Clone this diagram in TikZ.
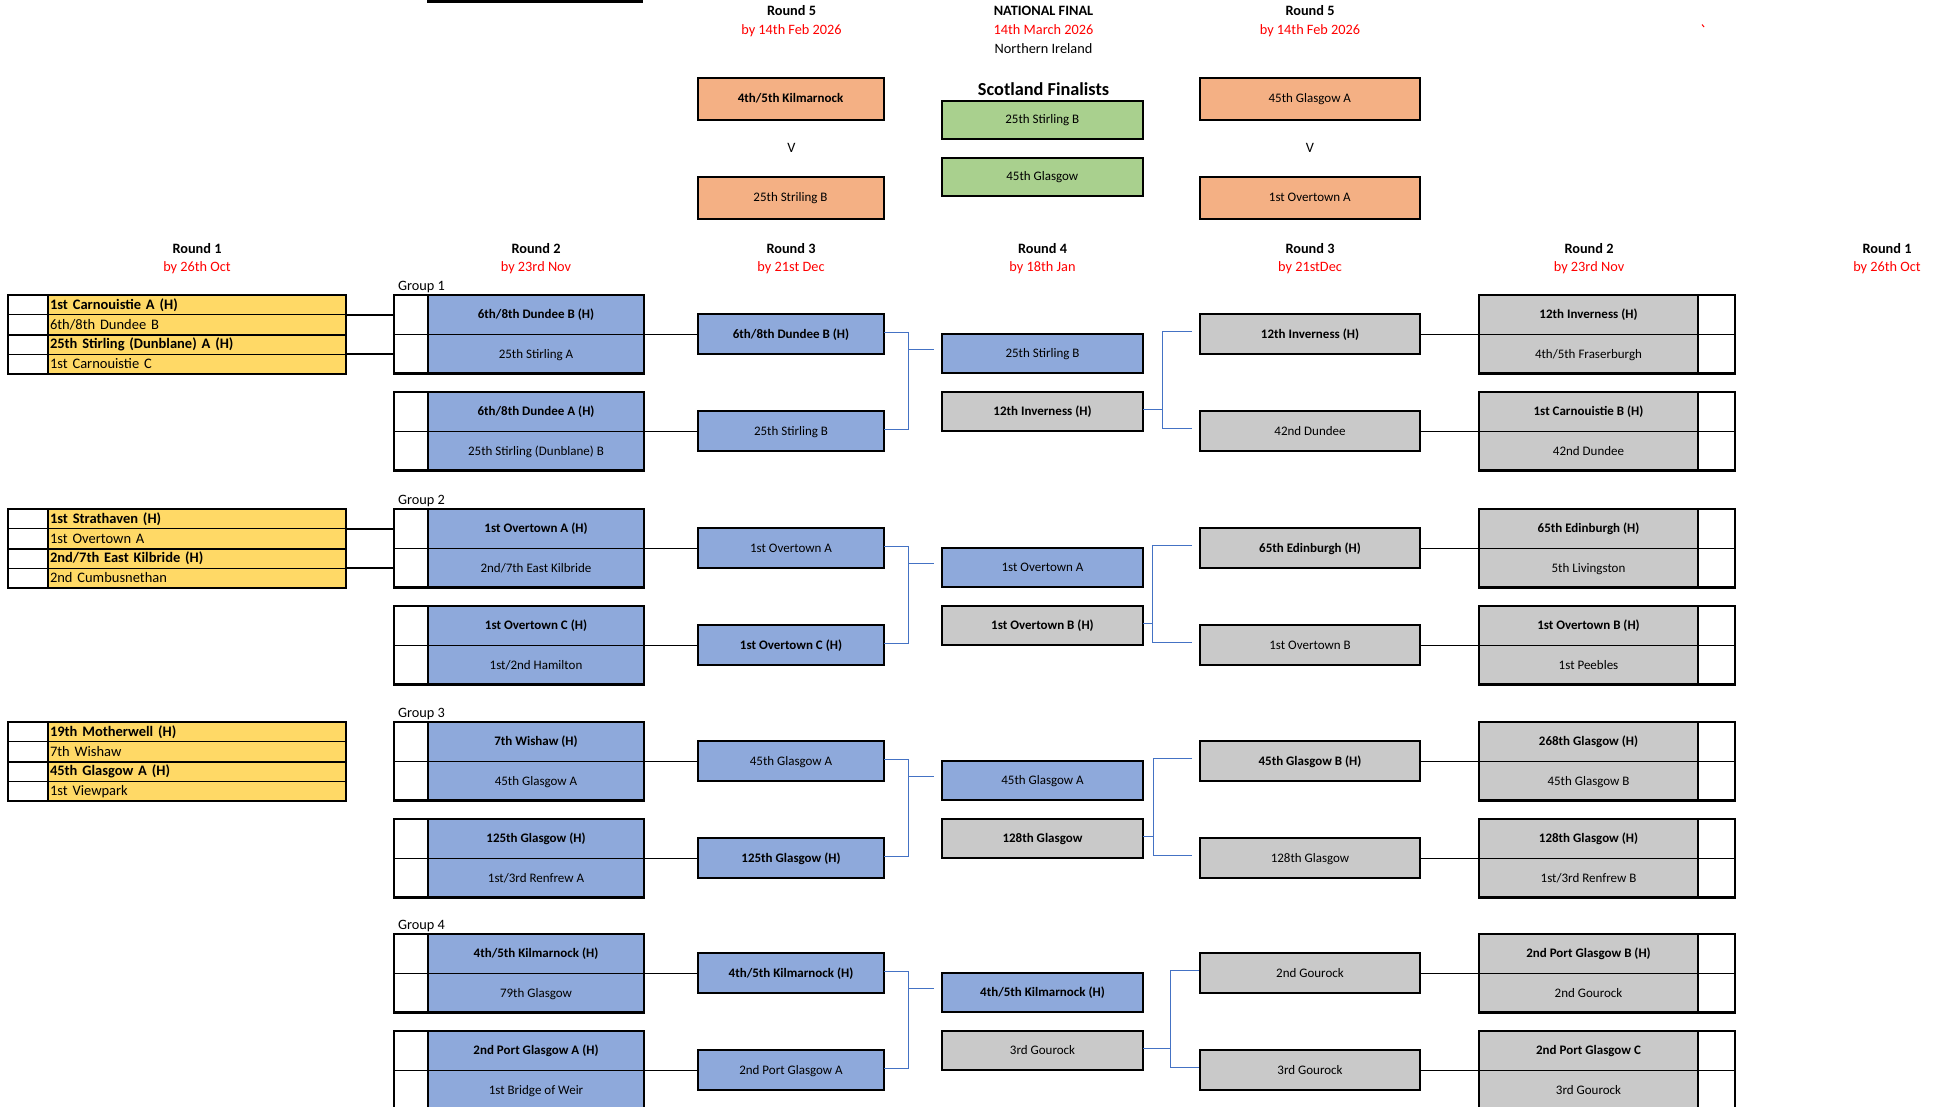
\documentclass[tikz,border=0pt]{standalone}
\usepackage{fontspec}
\setmainfont{Carlito}
\usetikzlibrary{calc}
\definecolor{yel}{HTML}{FFD966}
\definecolor{blu}{HTML}{8EA9DB}
\definecolor{gry}{HTML}{C9C9C9}
\definecolor{org}{HTML}{F4B084}
\definecolor{grn}{HTML}{A9D08E}
\definecolor{redt}{HTML}{FF0000}
\definecolor{brk}{HTML}{4472C4}
\newcommand\boxfont{\fontsize{13}{15}\selectfont}
\newcommand\rowfont{\fontsize{14.5}{16}\selectfont}
\newcommand\headfont{\fontsize{14.3}{16}\selectfont}
\tikzset{
  tcell/.style={draw=black, line width=1.6pt, inner sep=0pt, outer sep=0pt, anchor=north west, font=\boxfont, text height=10pt, text depth=2pt},
  rcell/.style={draw=black, line width=1.2pt, inner sep=0pt, outer sep=0pt, anchor=north west, minimum height=19.75pt, text height=11pt, text depth=2pt},
  ycell/.style={rcell, fill=yel, text width=294pt, align=left, inner xsep=2pt, font=\rowfont},
  outer/.style={draw=black, line width=2.6pt},
  midline/.style={draw=black, line width=2pt},
  conn/.style={draw=black, line width=1.8pt},
  bline/.style={draw=brk, line width=1pt},
  sbox/.style={draw=black, line width=2pt, inner sep=0pt, outer sep=0pt, anchor=north west, font=\boxfont, text height=10pt, text depth=2pt},
  rthree/.style={sbox, minimum width=186pt, minimum height=40pt},
  rfour/.style={sbox, minimum width=201pt, minimum height=39pt},
  rthreer/.style={sbox, minimum width=220pt, minimum height=40pt},
  obox/.style={sbox, fill=org, minimum height=42.3pt},
  gbox/.style={sbox, fill=grn, minimum width=201pt, minimum height=38.3pt},
  htxt/.style={inner sep=0pt, anchor=base, font=\headfont},
  hred/.style={htxt, text=redt},
  glabel/.style={inner sep=0pt, anchor=base west, font=\headfont},
}
% Round 1 box: name, y0, four texts
\newcommand\mkrone[6]{%
  \node[rcell, fill=white, minimum width=40pt] (#1w1) at (8,#2) {};
  \node[rcell, fill=white, minimum width=40pt] (#1w2) at (8,#2+19.75) {};
  \node[rcell, fill=white, minimum width=40pt] (#1w3) at (8,#2+39.5) {};
  \node[rcell, fill=white, minimum width=40pt] (#1w4) at (8,#2+59.25) {};
  \node[ycell] (#1y1) at (48,#2) {\bfseries #3};
  \node[ycell] (#1y2) at (48,#2+19.75) {#4};
  \node[ycell] (#1y3) at (48,#2+39.5) {\bfseries #5};
  \node[ycell] (#1y4) at (48,#2+59.25) {#6};
  \draw[outer] (#1w1.north west) rectangle (#1y4.south east);
  \draw[midline] (#1w2.south west) -- (#1y2.south east);
}
% Round 2 left box: name, ytop, top text, bottom text
\newcommand\mkrtwol[4]{%
  \node[tcell, fill=white, minimum width=34pt, minimum height=39.5pt] (#1wt) at (394,#2) {};
  \node[tcell, fill=white, minimum width=34pt, minimum height=39pt] (#1wb) at (394,#2+39.5) {};
  \node[tcell, fill=blu, minimum width=216pt, minimum height=39.5pt, font=\boxfont\bfseries] (#1t) at (428,#2) {#3};
  \node[tcell, fill=blu, minimum width=216pt, minimum height=39pt] (#1b) at (428,#2+39.5) {#4};
  \draw[outer] (#1wt.north west) rectangle (#1b.south east);
}
% Round 2 right box
\newcommand\mkrtwor[4]{%
  \node[tcell, fill=gry, minimum width=219pt, minimum height=39.5pt, font=\boxfont\bfseries] (#1t) at (1479,#2) {#3};
  \node[tcell, fill=gry, minimum width=219pt, minimum height=39pt] (#1b) at (1479,#2+39.5) {#4};
  \node[tcell, fill=white, minimum width=37pt, minimum height=39.5pt] (#1wt) at (1698,#2) {};
  \node[tcell, fill=white, minimum width=37pt, minimum height=39pt] (#1wb) at (1698,#2+39.5) {};
  \draw[outer] (#1t.north west) rectangle (#1wb.south east);
}
% connectors of a group: index, right bracket x, right gap
\newcommand\mklinks[3]{%
  \draw[conn] (A#1t.south east) -- (A#1t.south east -| L#1a.west);
  \draw[conn] (B#1t.south east) -- (B#1t.south east -| L#1b.west);
  \draw[conn] (C#1t.south west -| R#1a.east) -- (C#1t.south west);
  \draw[conn] (D#1t.south west -| R#1b.east) -- (D#1t.south west);
  \coordinate (lb#1) at (908,0);
  \coordinate (rb#1) at (#2,0);
  \draw[bline] ([yshift=2pt]L#1a.east) -- ([yshift=2pt]L#1a.east -| lb#1) -- ([yshift=2pt]L#1b.east -| lb#1) -- ([yshift=2pt]L#1b.east);
  \draw[bline] ([yshift=4.5pt]F#1a.west -| lb#1) -- ([xshift=-8pt,yshift=4.5pt]F#1a.west);
  \draw[bline] ([yshift=2.5pt]F#1b.east) -- ([yshift=2.5pt]F#1b.east -| rb#1);
  \draw[bline] ([xshift=-#3pt,yshift=3pt]R#1a.west) -- ([yshift=3pt]R#1a.west -| rb#1) -- ([yshift=3pt]R#1b.west -| rb#1) -- ([xshift=-#3pt,yshift=3pt]R#1b.west);
}
\begin{document}
\begin{tikzpicture}[x=1pt,y=-1pt]
\useasboundingbox (0,0) rectangle (1942,1107);
% top remnants
\draw[line width=3pt] (427,1.5) -- (643,1.5);
\draw[redt, line width=1pt] (1702,24.5) -- (1704,27);
% ---------- headers ----------
\node[htxt, font=\headfont\bfseries] (h5l) at (791.5,16) {Round 5};
\node[hred] (d5l) at (791.5,34.7) {by 14th Feb 2026};
\node[htxt, font=\headfont\bfseries] (hnf) at (1043.5,16) {NATIONAL FINAL};
\node[hred] (dnf) at (1043.5,34.7) {14th March 2026};
\node[htxt] (vnf) at (1043.5,54) {Northern Ireland};
\node[htxt, font=\headfont\bfseries] (h5r) at (1310,16) {Round 5};
\node[hred] (d5r) at (1310,34.7) {by 14th Feb 2026};
% round 5 and final boxes
\node[obox, minimum width=186pt, font=\boxfont\bfseries] (o1) at (697.5,77.7) {4th/5th Kilmarnock};
\node[htxt] (v1) at (791.5,152.7) {V};
\node[obox, minimum width=186pt] (o2) at (697.5,176.7) {25th Striling B};
\node[obox, minimum width=220.4pt] (o3) at (1199.6,77.7) {45th Glasgow A};
\node[htxt] (v2) at (1310,152.7) {V};
\node[obox, minimum width=220.4pt] (o4) at (1199.6,176.7) {1st Overtown A};
\node[htxt, font=\fontsize{18.3}{20}\selectfont\bfseries] (sf) at (1043.5,95.7) {Scotland Finalists};
\node[gbox] (g1) at (941.8,100.7) {25th Stirling B};
\node[gbox] (g2) at (941.8,157.7) {45th Glasgow};
% round headers
\node[htxt, font=\headfont\bfseries] (r1l) at (197,253.3) {Round 1};
\node[hred] (r1ld) at (197,271.7) {by 26th Oct};
\node[htxt, font=\headfont\bfseries] (r2l) at (536,253.3) {Round 2};
\node[hred] (r2ld) at (536,271.7) {by 23rd Nov};
\node[htxt, font=\headfont\bfseries] (r3l) at (791,253.3) {Round 3};
\node[hred] (r3ld) at (791,271.7) {by 21st Dec};
\node[htxt, font=\headfont\bfseries] (r4) at (1042.5,253.3) {Round 4};
\node[hred] (r4d) at (1042.5,271.7) {by 18th Jan};
\node[htxt, font=\headfont\bfseries] (r3r) at (1310,253.3) {Round 3};
\node[hred] (r3rd) at (1310,271.7) {by 21stDec};
\node[htxt, font=\headfont\bfseries] (r2r) at (1589,253.3) {Round 2};
\node[hred] (r2rd) at (1589,271.7) {by 23rd Nov};
\node[htxt, font=\headfont\bfseries] (r1r) at (1887,253.3) {Round 1};
\node[hred] (r1rd) at (1887,271.7) {by 26th Oct};
% ================= Group 1 (y0=295) =================
\node[glabel] (gl1) at (397.8,290) {Group 1};
\mkrone{Q1}{295}{1st Carnouistie A (H)}{6th/8th Dundee B}{25th Stirling (Dunblane) A (H)}{1st Carnouistie C}
\mkrtwol{A1}{295}{6th/8th Dundee B (H)}{25th Stirling A}
\mkrtwol{B1}{392}{6th/8th Dundee A (H)}{25th Stirling (Dunblane) B}
\node[rthree, fill=blu] (L1a) at (698,314) {\bfseries 6th/8th Dundee B (H)};
\node[rthree, fill=blu] (L1b) at (698,411) {25th Stirling B};
\node[rfour, fill=blu] (F1a) at (942,334) {25th Stirling B};
\node[rfour, fill=gry] (F1b) at (942,392) {\bfseries 12th Inverness (H)};
\node[rthreer, fill=gry] (R1a) at (1200,314) {\bfseries 12th Inverness (H)};
\node[rthreer, fill=gry] (R1b) at (1200,411) {42nd Dundee};
\mkrtwor{C1}{295}{12th Inverness (H)}{4th/5th Fraserburgh}
\mkrtwor{D1}{392}{1st Carnouistie B (H)}{42nd Dundee}
\draw[conn] (Q1y1.south east) -- (Q1y1.south east -| A1wt.west);
\draw[conn] (Q1y3.south east) -- (Q1y3.south east -| A1wt.west);
\mklinks{1}{1162}{8}
% ================= Group 2 (y0=509) =================
\node[glabel] (gl2) at (397.8,504) {Group 2};
\mkrone{Q2}{509}{1st Strathaven (H)}{1st Overtown A}{2nd/7th East Kilbride (H)}{2nd Cumbusnethan}
\mkrtwol{A2}{509}{1st Overtown A (H)}{2nd/7th East Kilbride}
\mkrtwol{B2}{606}{1st Overtown C (H)}{1st/2nd Hamilton}
\node[rthree, fill=blu] (L2a) at (698,528) {1st Overtown A};
\node[rthree, fill=blu] (L2b) at (698,625) {\bfseries 1st Overtown C (H)};
\node[rfour, fill=blu] (F2a) at (942,548) {1st Overtown A};
\node[rfour, fill=gry] (F2b) at (942,606) {\bfseries 1st Overtown B (H)};
\node[rthreer, fill=gry] (R2a) at (1200,528) {\bfseries 65th Edinburgh (H)};
\node[rthreer, fill=gry] (R2b) at (1200,625) {1st Overtown B};
\mkrtwor{C2}{509}{65th Edinburgh (H)}{5th Livingston}
\mkrtwor{D2}{606}{1st Overtown B (H)}{1st Peebles}
\draw[conn] (Q2y1.south east) -- (Q2y1.south east -| A2wt.west);
\draw[conn] (Q2y3.south east) -- (Q2y3.south east -| A2wt.west);
\mklinks{2}{1152}{8}
% ================= Group 3 (y0=722) =================
\node[glabel] (gl3) at (397.8,717) {Group 3};
\mkrone{Q3}{722}{19th Motherwell (H)}{7th Wishaw}{45th Glasgow A (H)}{1st Viewpark}
\mkrtwol{A3}{722}{7th Wishaw (H)}{45th Glasgow A}
\mkrtwol{B3}{819}{125th Glasgow (H)}{1st/3rd Renfrew A}
\node[rthree, fill=blu] (L3a) at (698,741) {45th Glasgow A};
\node[rthree, fill=blu] (L3b) at (698,838) {\bfseries 125th Glasgow (H)};
\node[rfour, fill=blu] (F3a) at (942,761) {45th Glasgow A};
\node[rfour, fill=gry] (F3b) at (942,819) {\bfseries 128th Glasgow};
\node[rthreer, fill=gry] (R3a) at (1200,741) {\bfseries 45th Glasgow B (H)};
\node[rthreer, fill=gry] (R3b) at (1200,838) {128th Glasgow};
\mkrtwor{C3}{722}{268th Glasgow (H)}{45th Glasgow B}
\mkrtwor{D3}{819}{128th Glasgow (H)}{1st/3rd Renfrew B}
\mklinks{3}{1153}{8}
% ================= Group 4 (y0=934) =================
\node[glabel] (gl4) at (397.8,929) {Group 4};
\mkrtwol{A4}{934}{4th/5th Kilmarnock (H)}{79th Glasgow}
\mkrtwol{B4}{1031}{2nd Port Glasgow A (H)}{1st Bridge of Weir}
\node[rthree, fill=blu] (L4a) at (698,953) {\bfseries 4th/5th Kilmarnock (H)};
\node[rthree, fill=blu] (L4b) at (698,1050) {2nd Port Glasgow A};
\node[rfour, fill=blu] (F4a) at (942,973) {\bfseries 4th/5th Kilmarnock (H)};
\node[rfour, fill=gry] (F4b) at (942,1031) {3rd Gourock};
\node[rthreer, fill=gry] (R4a) at (1200,953) {2nd Gourock};
\node[rthreer, fill=gry] (R4b) at (1200,1050) {3rd Gourock};
\mkrtwor{C4}{934}{2nd Port Glasgow B (H)}{2nd Gourock}
\mkrtwor{D4}{1031}{2nd Port Glasgow C}{3rd Gourock}
\mklinks{4}{1170}{1}
\end{tikzpicture}
\end{document}
